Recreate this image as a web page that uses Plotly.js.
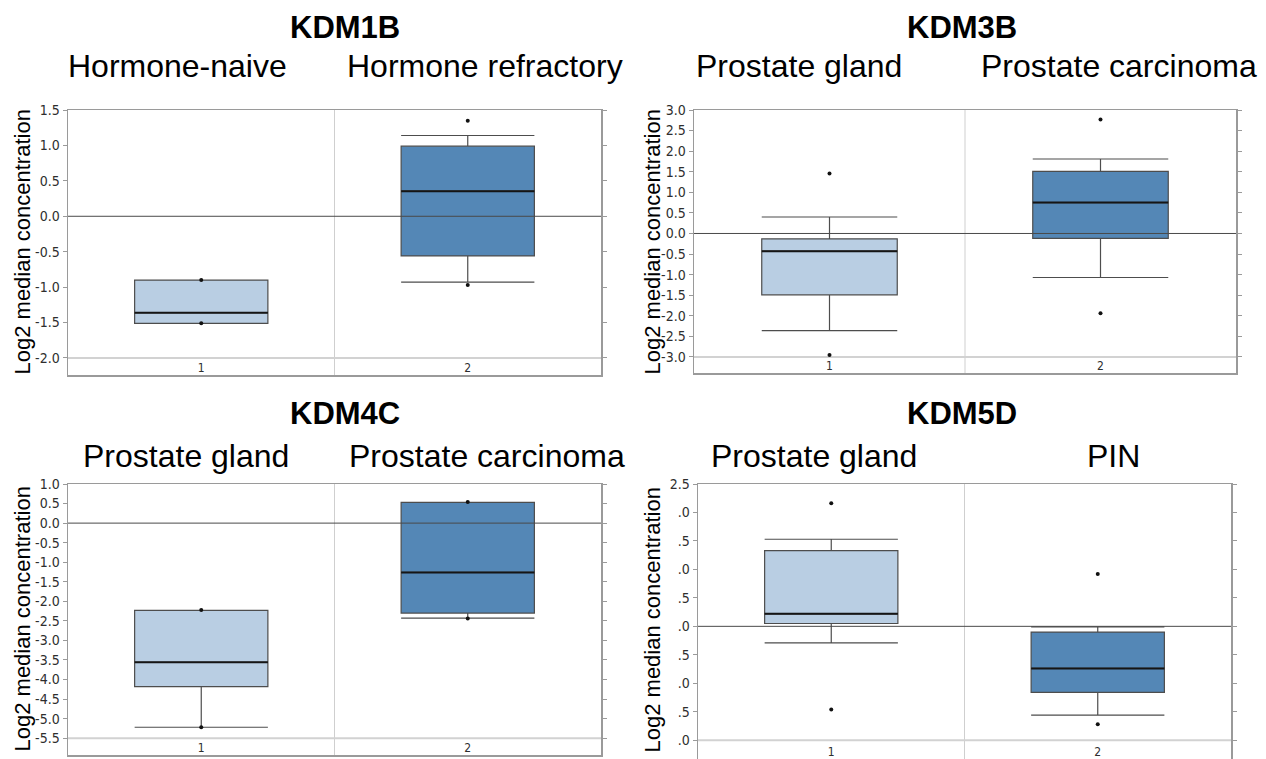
<!DOCTYPE html>
<html>
<head>
<meta charset="utf-8">
<script src="https://cdn.plot.ly/plotly-3.0.1.min.js"></script>
<style>
  html, body { margin: 0; padding: 0; background: #ffffff; overflow: hidden; }
  #chart { width: 1266px; height: 759px; }
</style>
</head>
<body>
<div id="chart"></div>
<script>
// ---------------- DATA ----------------
const PANEL_TITLES = ['KDM1B', 'KDM3B', 'KDM4C', 'KDM5D'];
const KDM1B_GROUPS = ['Hormone-naive', 'Hormone refractory'];
const KDM3B_GROUPS = ['Prostate gland', 'Prostate carcinoma'];
const KDM4C_GROUPS = ['Prostate gland', 'Prostate carcinoma'];
const KDM5D_GROUPS = ['Prostate gland', 'PIN'];
const X_CATS = [1, 2];
const X_TICK_LABELS = ['1', '2'];
const Y_AXIS_TITLE = 'Log2 median concentration';

// KDM1B
const KDM1B_Q1 = [-1.51, -0.56];
const KDM1B_MEDIAN = [-1.36, 0.355];
const KDM1B_Q3 = [-0.90, 0.99];
const KDM1B_LOW = [-1.51, -0.93];
const KDM1B_HIGH = [-0.90, 1.14];
const KDM1B_PTS_X = [1, 1, 2, 2];
const KDM1B_PTS_Y = [-0.90, -1.51, 1.35, -0.97];
const KDM1B_YTICKS = [1.5, 1.0, 0.5, 0.0, -0.5, -1.0, -1.5, -2.0];
const KDM1B_YLABELS = ['1.5', '1.0', '0.5', '0.0', '-0.5', '-1.0', '-1.5', '-2.0'];

// KDM3B
const KDM3B_Q1 = [-1.49, -0.12];
const KDM3B_MEDIAN = [-0.43, 0.75];
const KDM3B_Q3 = [-0.13, 1.51];
const KDM3B_LOW = [-2.36, -1.07];
const KDM3B_HIGH = [0.40, 1.81];
const KDM3B_PTS_X = [1, 1, 2, 2];
const KDM3B_PTS_Y = [1.46, -2.95, 2.77, -1.94];
const KDM3B_YTICKS = [3.0, 2.5, 2.0, 1.5, 1.0, 0.5, 0.0, -0.5, -1.0, -1.5, -2.0, -2.5, -3.0];
const KDM3B_YLABELS = ['3.0', '2.5', '2.0', '1.5', '1.0', '0.5', '0.0', '-0.5', '-1.0', '-1.5', '-2.0', '-2.5', '-3.0'];

// KDM4C
const KDM4C_Q1 = [-4.18, -2.30];
const KDM4C_MEDIAN = [-3.56, -1.26];
const KDM4C_Q3 = [-2.23, 0.53];
const KDM4C_LOW = [-5.22, -2.43];
const KDM4C_HIGH = [-2.23, 0.53];
const KDM4C_PTS_X = [1, 1, 2, 2];
const KDM4C_PTS_Y = [-2.22, -5.22, 0.54, -2.44];
const KDM4C_YTICKS = [1.0, 0.5, 0.0, -0.5, -1.0, -1.5, -2.0, -2.5, -3.0, -3.5, -4.0, -4.5, -5.0, -5.5];
const KDM4C_YLABELS = ['1.0', '0.5', '0.0', '-0.5', '-1.0', '-1.5', '-2.0', '-2.5', '-3.0', '-3.5', '-4.0', '-4.5', '-5.0', '-5.5'];

// KDM5D
const KDM5D_Q1 = [0.05, -1.16];
const KDM5D_MEDIAN = [0.22, -0.74];
const KDM5D_Q3 = [1.33, -0.10];
const KDM5D_LOW = [-0.29, -1.56];
const KDM5D_HIGH = [1.53, -0.01];
const KDM5D_PTS_X = [1, 1, 2, 2];
const KDM5D_PTS_Y = [2.16, -1.46, 0.92, -1.72];
const KDM5D_YTICKS = [2.5, 2.0, 1.5, 1.0, 0.5, 0.0, -0.5, -1.0, -1.5, -2.0];
const KDM5D_YLABELS = ['2.5', '.0', '.5', '.0', '.5', '.0', '.5', '.0', '.5', '.0'];

// ---------------- STYLE / LAYOUT ----------------
const W = 1266, H = 759;
const BOX_COLORS = ['#b9cee3', '#5487b6'];
const BOX_WIDTH = 0.5;
const FRAME_COLOR = '#9a9a9a';
const TICK_FONT = {family: '"Liberation Sans Narrow", "DejaVu Sans Condensed", "Liberation Sans", sans-serif', size: 14, color: '#2e2e2e'};
const XTICK_FONT = {family: '"Liberation Sans Narrow", "DejaVu Sans Condensed", "Liberation Sans", sans-serif', size: 12, color: '#2e2e2e'};
const TITLE_FONT = {family: '"Liberation Sans", Arial, Helvetica, sans-serif', size: 31, color: '#000000'};
const GROUP_FONT = {family: '"Liberation Sans", Arial, Helvetica, sans-serif', size: 32, color: '#000000'};
const YTITLE_FONT = {family: '"Liberation Sans", Arial, sans-serif', size: 22, color: '#000000'};

// pixel geometry of each panel: [left, right, top, bottom], y range, title pos, group label pos
const PANELS = [
  {box: [68, 601, 110, 375], yr: [-2.24, 1.5], q1: KDM1B_Q1, med: KDM1B_MEDIAN, q3: KDM1B_Q3, lo: KDM1B_LOW, hi: KDM1B_HIGH,
   px: KDM1B_PTS_X, py: KDM1B_PTS_Y, tv: KDM1B_YTICKS, tt: KDM1B_YLABELS, groups: KDM1B_GROUPS,
   titleXY: [345, 27], groupY: 66, groupX: [177, 485], ytX: 22},
  {box: [694, 1236, 110, 373], yr: [-3.39, 3.0], q1: KDM3B_Q1, med: KDM3B_MEDIAN, q3: KDM3B_Q3, lo: KDM3B_LOW, hi: KDM3B_HIGH,
   px: KDM3B_PTS_X, py: KDM3B_PTS_Y, tv: KDM3B_YTICKS, tt: KDM3B_YLABELS, groups: KDM3B_GROUPS,
   titleXY: [962, 27], groupY: 66, groupX: [799, 1119], ytX: 652},
  {box: [68, 601, 484, 755], yr: [-5.93, 1.0], q1: KDM4C_Q1, med: KDM4C_MEDIAN, q3: KDM4C_Q3, lo: KDM4C_LOW, hi: KDM4C_HIGH,
   px: KDM4C_PTS_X, py: KDM4C_PTS_Y, tv: KDM4C_YTICKS, tt: KDM4C_YLABELS, groups: KDM4C_GROUPS,
   titleXY: [345, 414], groupY: 456, groupX: [186, 487], ytX: 22},
  {box: [698, 1231, 484, 760], yr: [-2.33, 2.5], q1: KDM5D_Q1, med: KDM5D_MEDIAN, q3: KDM5D_Q3, lo: KDM5D_LOW, hi: KDM5D_HIGH,
   px: KDM5D_PTS_X, py: KDM5D_PTS_Y, tv: KDM5D_YTICKS, tt: KDM5D_YLABELS, groups: KDM5D_GROUPS,
   titleXY: [962, 414], groupY: 456, groupX: [814, 1113], ytX: 652}
];

const fx = p => p / W;
const fy = p => 1 - p / H;

const data = [];
const layout = {
  width: W, height: H,
  margin: {l: 0, r: 0, t: 0, b: 0},
  paper_bgcolor: '#ffffff', plot_bgcolor: '#ffffff',
  showlegend: false,
  boxmode: 'overlay',
  hovermode: false,
  annotations: [],
  shapes: []
};

PANELS.forEach((P, k) => {
  const n = k === 0 ? '' : String(k + 1);
  const xa = 'x' + n, ya = 'y' + n;
  const [L, R, T, B] = P.box;

  layout['xaxis' + n] = {
    domain: [fx(L), fx(R)], anchor: ya, range: [0.5, 2.5],
    tickvals: X_CATS, ticktext: X_TICK_LABELS, ticks: '', ticklabelposition: 'inside',
    tickfont: XTICK_FONT, showgrid: false, zeroline: false,
    showline: true, mirror: true, linecolor: FRAME_COLOR, linewidth: 1.5, fixedrange: true
  };
  layout['yaxis' + n] = {
    domain: [Math.max(0, fy(B)), fy(T)], anchor: xa, range: P.yr,
    tickvals: P.tv, ticktext: P.tt, ticks: 'outside', ticklen: 4, tickwidth: 1, tickcolor: FRAME_COLOR,
    tickfont: TICK_FONT, showgrid: false, zeroline: false,
    showline: true, mirror: 'ticks', linecolor: FRAME_COLOR, linewidth: 1.5, fixedrange: true
  };

  // separator between the two categories and light line at lowest tick
  layout.shapes.push({type: 'line', layer: 'below', xref: xa, yref: ya + ' domain',
    x0: (X_CATS[0] + X_CATS[1]) / 2, x1: (X_CATS[0] + X_CATS[1]) / 2, y0: 0, y1: 1,
    line: {color: '#cfcfcf', width: 1}});
  const minTick = Math.min(...P.tv);
  layout.shapes.push({type: 'line', layer: 'below', xref: xa + ' domain', yref: ya,
    x0: 0, x1: 1, y0: minTick, y1: minTick, line: {color: '#d2d2d2', width: 2}});
  // zero line above boxes
  layout.shapes.push({type: 'line', layer: 'above', xref: xa + ' domain', yref: ya,
    x0: 0, x1: 1, y0: 0, y1: 0, line: {color: '#4a4a4a', width: 1}});

  // boxes
  X_CATS.forEach((c, i) => {
    data.push({
      type: 'box', xaxis: xa, yaxis: ya, x: [c],
      q1: [P.q1[i]], median: [P.med[i]], q3: [P.q3[i]],
      lowerfence: [P.lo[i]], upperfence: [P.hi[i]],
      width: BOX_WIDTH, whiskerwidth: 1, boxpoints: false,
      fillcolor: BOX_COLORS[i], line: {color: '#4d4d4d', width: 1.2},
      hoverinfo: 'skip'
    });
  });
  // emphasised median lines
  const mx = [], my = [];
  X_CATS.forEach((c, i) => {
    mx.push(c - BOX_WIDTH / 2, c + BOX_WIDTH / 2, null);
    my.push(P.med[i], P.med[i], null);
  });
  data.push({type: 'scatter', mode: 'lines', xaxis: xa, yaxis: ya, x: mx, y: my,
    line: {color: '#151515', width: 2}, hoverinfo: 'skip'});
  // individual points
  data.push({type: 'scatter', mode: 'markers', xaxis: xa, yaxis: ya, x: P.px, y: P.py,
    marker: {color: '#111111', size: 4}, hoverinfo: 'skip'});

  // titles
  layout.annotations.push({text: '<b>' + PANEL_TITLES[k] + '</b>', xref: 'paper', yref: 'paper',
    x: fx(P.titleXY[0]), y: fy(P.titleXY[1]), xanchor: 'center', yanchor: 'middle',
    showarrow: false, font: TITLE_FONT});
  P.groups.forEach((g, i) => {
    layout.annotations.push({text: g, xref: 'paper', yref: 'paper',
      x: fx(P.groupX[i]), y: fy(P.groupY), xanchor: 'center', yanchor: 'middle',
      showarrow: false, font: GROUP_FONT});
  });
  layout.annotations.push({text: Y_AXIS_TITLE, xref: 'paper', yref: 'paper',
    x: fx(P.ytX), y: fy((T + Math.min(B, 755)) / 2), xanchor: 'center', yanchor: 'middle', textangle: -90,
    showarrow: false, font: YTITLE_FONT});
});

Plotly.newPlot('chart', data, layout, {displayModeBar: false, staticPlot: true});
</script>
</body>
</html>
